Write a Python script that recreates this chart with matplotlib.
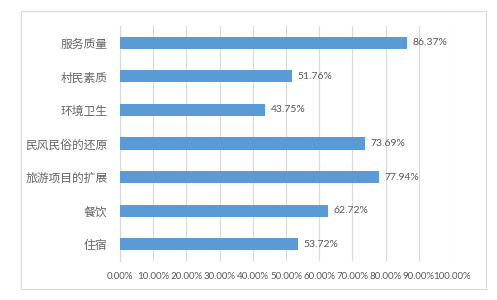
import matplotlib
matplotlib.use("Agg")
import matplotlib.pyplot as plt
from matplotlib.patches import Rectangle
from matplotlib.ticker import FuncFormatter, MultipleLocator

plt.rcParams['font.family'] = ['Noto Sans CJK SC', 'DejaVu Sans']

categories = ['住宿', '餐饮', '旅游项目的扩展', '民风民俗的还原', '环境卫生', '村民素质', '服务质量']
values = [53.72, 62.72, 77.94, 73.69, 43.75, 51.76, 86.37]

BAR_COLOR = '#5B9BD5'
TEXT_COLOR = '#595959'
GRID_COLOR = '#D9D9D9'

W, H = 497, 300
fig = plt.figure(figsize=(W / 100, H / 100), dpi=100)
fig.patch.set_facecolor('white')

# outer chart border
fig.patches.append(Rectangle((21 / W, 1 - 289 / H), (486 - 21) / W, (289 - 11) / H,
                             transform=fig.transFigure, fill=False,
                             edgecolor='#D9D9D9', linewidth=0.8))

ax = fig.add_axes([120 / W, 1 - 261 / H, (452 - 120) / W, (261 - 26) / H])
ypos = range(len(categories))
ax.barh(ypos, values, height=0.36, color=BAR_COLOR, zorder=3)

ax.set_xlim(0, 100)
ax.set_ylim(-0.5, len(categories) - 0.5)
ax.xaxis.set_major_locator(MultipleLocator(10))
ax.xaxis.set_major_formatter(FuncFormatter(lambda v, p: '%.2f%%' % v))
ax.grid(axis='x', color=GRID_COLOR, linewidth=0.8, zorder=0)
ax.set_yticks(list(ypos))
ax.set_yticklabels(categories, fontsize=8.5, color='#666666')

for lbl in ax.get_xticklabels():
    lbl.set_fontfamily('Lato')
    lbl.set_fontsize(7)
    lbl.set_color(TEXT_COLOR)

ax.tick_params(axis='both', length=0)
ax.tick_params(axis='y', pad=9)
ax.tick_params(axis='x', pad=8)
for s in ['top', 'right', 'bottom']:
    ax.spines[s].set_visible(False)
ax.spines['left'].set_color(GRID_COLOR)
ax.spines['left'].set_linewidth(0.8)

for i, v in enumerate(values):
    ax.text(v + 1.6, i, '%.2f%%' % v, va='center', ha='left',
            fontsize=7.5, family='Lato', color=TEXT_COLOR, zorder=4)

fig.savefig('out.png', dpi=100)
